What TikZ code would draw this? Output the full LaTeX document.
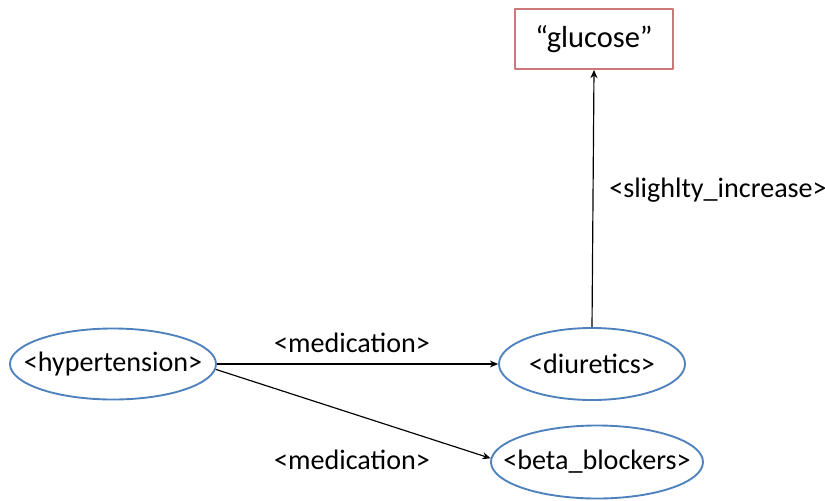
\documentclass[tikz,border=0pt]{standalone}
\usepackage{fontspec}
\setmainfont{Carlito}
\usetikzlibrary{shapes.geometric,arrows.meta}
\definecolor{ellblue}{RGB}{79,129,189}
\definecolor{boxred}{RGB}{205,120,120}
\begin{document}
\begin{tikzpicture}[x=0.03cm,y=-0.03cm,>={Stealth[length=7pt,width=6pt]},line join=round,
  font=\fontsize{24}{28}\selectfont,
  concept/.style={ellipse,draw=ellblue,line width=1.6pt,inner sep=0pt},
  literal/.style={rectangle,draw=boxred,line width=1.6pt,minimum width=4.74cm,minimum height=1.8cm,font=\fontsize{26}{30}\selectfont},
  rel/.style={->,line width=1pt}]
	\useasboundingbox (0,0) rectangle (825,500);
	% nodes
	\node[concept,minimum width=6.18cm,minimum height=2.13cm,label=center:{<hypertension>}] (hyp) at (113,364) {};
	\node[concept,minimum width=5.58cm,minimum height=2.16cm,label=center:{<diuretics>}] (diu) at (592,364) {};
	\node[concept,minimum width=6.36cm,minimum height=2.19cm,label=center:{<beta\_blockers>}] (beta) at (597,462) {};
	\node[literal] (glu) at (594,39) {“glucose”};
	% relations
	\draw[rel] (hyp.east) -- (diu.west);
	\draw[rel] (hyp.-3) -- (beta.178);
	\draw[rel] (diu.north) -- (glu.south);
	\node (med1) at (352,343) {<medication>};
	\node (med2) at (352,460) {<medication>};
	\node (incr) at (718,190) {<slighlty\_increase>};
\end{tikzpicture}
\end{document}
